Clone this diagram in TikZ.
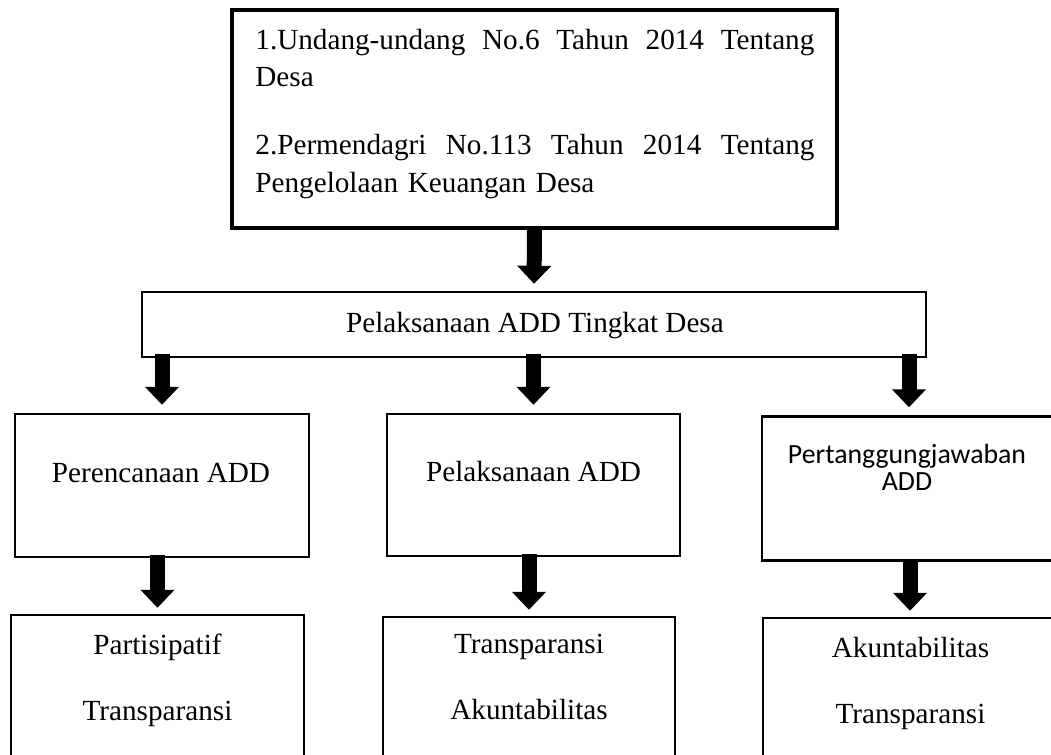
\documentclass[tikz,border=0pt]{standalone}
\usepackage{fontspec}
\setmainfont{Liberation Serif}
\newfontfamily\calfont{Carlito}
\usetikzlibrary{positioning,arrows.meta}

\tikzset{
  box/.style={draw,line width=1.2pt,inner sep=0pt},
  txt/.style={inner sep=0pt,anchor=base,font=\fontsize{14.6}{18}\selectfont},
  bigarrow/.style={line width=7.5pt,-{Triangle[width=16.5pt,length=9pt]}},
}
\newcommand{\fullline}[1]{\makebox[279.5pt][s]{\spaceskip=3.65pt plus 10pt\relax #1}}

\begin{document}
\begin{tikzpicture}[x=0.5pt,y=-0.5pt]
\clip (0,0) rectangle (1051,755);
% dasar hukum
\node[box,line width=2pt,minimum width=302.5pt,minimum height=109pt] (uu) at (534.5,119) {};
\node[txt,anchor=base west,text width=279.5pt,align=left,font=\fontsize{14.6}{18.75}\selectfont]
  (uutxt) at (255,49) {\fullline{1.Undang-undang No.6 Tahun 2014 Tentang}\\Desa\\[15.25pt]\fullline{2.Permendagri No.113 Tahun 2014 Tentang}\\Pengelolaan Keuangan Desa};
% tingkat desa
\node[box,minimum width=392pt,minimum height=32.5pt] (add) at (534,324.5) {};
\node[txt] (addtxt) at (535,332) {Pelaksanaan ADD Tingkat Desa};
% tahapan
\node[box,minimum width=147pt,minimum height=71.5pt] (per) at (162,485.5) {};
\node[box,minimum width=146.5pt,minimum height=71pt] (pel) at (533.5,485) {};
\node[box,minimum width=147pt,minimum height=72pt] (pert) at (909,488.5) {};
\node[txt] (pertxt) at (161,482) {Perencanaan ADD};
\node[txt] (peltxt) at (533.5,481) {Pelaksanaan ADD};
\node[txt,align=center,font=\calfont\fontsize{13.9}{13.5}\selectfont] (perttxt) at (907,490) {Pertanggungjawaban\\ADD};
% prinsip
\node[box,minimum width=146.5pt,minimum height=92.5pt] (part) at (157.5,707.5) {};
\node[box,minimum width=146pt,minimum height=91.5pt] (trans) at (529,708.5) {};
\node[box,minimum width=147pt,minimum height=91pt] (akun) at (910,709) {};
\node[txt,align=center,font=\fontsize{14.6}{33}\selectfont] (parttxt) at (157.5,720) {Partisipatif\\Transparansi};
\node[txt,align=center,font=\fontsize{14.6}{33}\selectfont] (transtxt) at (529,719) {Transparansi\\Akuntabilitas};
\node[txt,align=center,font=\fontsize{14.6}{33}\selectfont] (akuntxt) at (910.5,723) {Akuntabilitas\\Transparansi};
% panah
\draw[bigarrow,shorten >=3.5pt] (uu.south) -- (add.north);
\foreach \n in {per,pel,pert}
  \draw[bigarrow,shorten <=-2pt,shorten >=4pt] (add.south -| \n.north) -- (\n.north);
\draw[bigarrow,shorten <=-1.5pt,shorten >=3pt] (per.south -| part.north) -- (part.north);
\draw[bigarrow,shorten <=-1.5pt,shorten >=3pt] (pel.south -| trans.north) -- (trans.north);
\draw[bigarrow,shorten <=-1.5pt,shorten >=3pt] (pert.south -| akun.north) -- (akun.north);
\end{tikzpicture}
\end{document}
